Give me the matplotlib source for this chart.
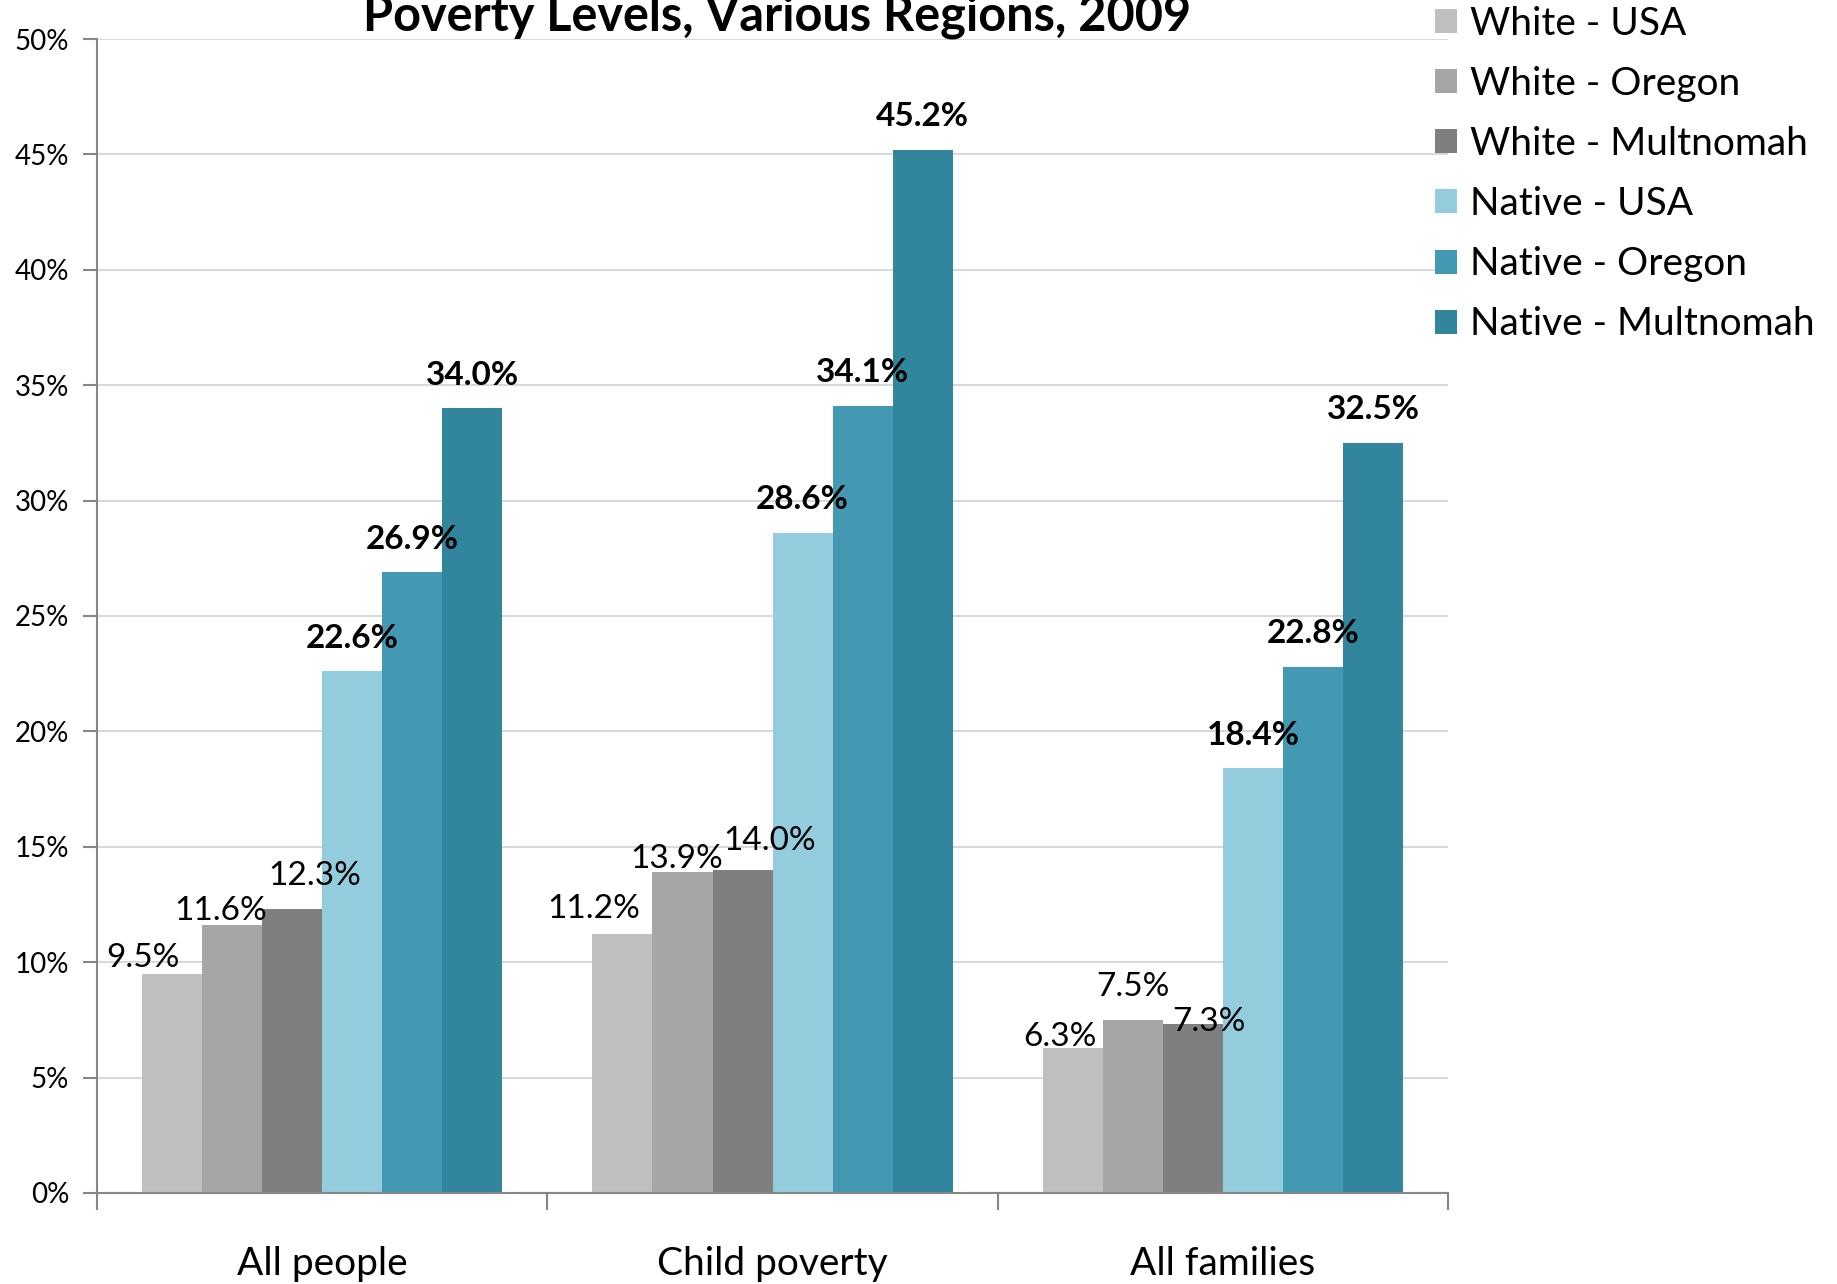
import numpy as np
import matplotlib
matplotlib.use('Agg')
import matplotlib.pyplot as plt
from matplotlib.ticker import FuncFormatter

plt.rcParams['font.family'] = ['Lato', 'DejaVu Sans']

categories = ['All people', 'Child poverty', 'All families']
series = ['White - USA', 'White - Oregon', 'White - Multnomah',
          'Native - USA', 'Native - Oregon', 'Native - Multnomah']
white_usa = [9.5, 11.2, 6.3]
white_oregon = [11.6, 13.9, 7.5]
white_mult = [12.3, 14.0, 7.3]
native_usa = [22.6, 28.6, 18.4]
native_oregon = [26.9, 34.1, 22.8]
native_mult = [34.0, 45.2, 32.5]
values = [white_usa, white_oregon, white_mult, native_usa, native_oregon, native_mult]
colors = ['#BFBFBF', '#A6A6A6', '#7F7F7F', '#93CDDD', '#4399B1', '#31859C']

# label nudges (pixels) for the white series, as placed in the original
label_nudge = {
    0: [(-29, 16), (-29, 25), (-13, 11)],
    1: [(-11, 14), (-6, 13), (0, 33)],
    2: [(23, 33), (27, 29), (16, 2)],
}

fig = plt.figure(figsize=(18.37, 12.84), dpi=100)
ax = fig.add_axes([0.0528, 0.0709, 0.7355, 0.8987])

x = np.arange(len(categories))
w = 0.8 / len(series)
handles = []
for i, (name, vals, c) in enumerate(zip(series, values, colors)):
    pos = x - 0.4 + w * (i + 0.5)
    b = ax.bar(pos, vals, width=w, color=c, label=name, zorder=2)
    handles.append(b)
    bold = name.startswith('Native')
    for j, (p, v) in enumerate(zip(pos, vals)):
        off = label_nudge[i][j] if i in label_nudge else (0, 33)
        ax.annotate(f'{v:.1f}%', (p, v), xytext=off, textcoords='offset pixels',
                    ha='center', va='center', fontsize=24,
                    fontweight='bold' if bold else 'normal', zorder=3)

ax.set_xlim(-0.5, 2.5)
ax.set_ylim(0, 50)
ax.set_yticks(np.arange(0, 51, 5))
ax.yaxis.set_major_formatter(FuncFormatter(lambda v, _: f'{v:.0f}%'))
ax.yaxis.grid(True, color='#D9D9D9', linewidth=1.5, zorder=0)
ax.set_axisbelow(True)

# category labels between boundary ticks
ax.set_xticks([-0.5, 0.5, 1.5, 2.5])
ax.set_xticklabels([])
ax.set_xticks(x, minor=True)
ax.set_xticklabels(categories, minor=True, fontsize=28)
ax.tick_params(axis='x', which='minor', length=0, pad=38)
ax.tick_params(axis='x', which='major', length=12, width=1.5, color='#868686')
ax.tick_params(axis='y', length=10, width=1.5, color='#868686', labelsize=20, pad=10)

for s in ['top', 'right']:
    ax.spines[s].set_visible(False)
for s in ['left', 'bottom']:
    ax.spines[s].set_color('#868686')
    ax.spines[s].set_linewidth(1.5)

fig.text(0.423, 0.9875, 'Poverty Levels, Various Regions, 2009', ha='center',
         va='center', fontsize=35, fontweight='bold')

fig.legend(handles=handles, loc='upper left', bbox_to_anchor=(0.762, 1.0227),
           frameon=False, fontsize=28, handlelength=0.57, handleheight=0.57,
           handletextpad=0.33, labelspacing=0.62)

fig.savefig('out.png', dpi=100)
